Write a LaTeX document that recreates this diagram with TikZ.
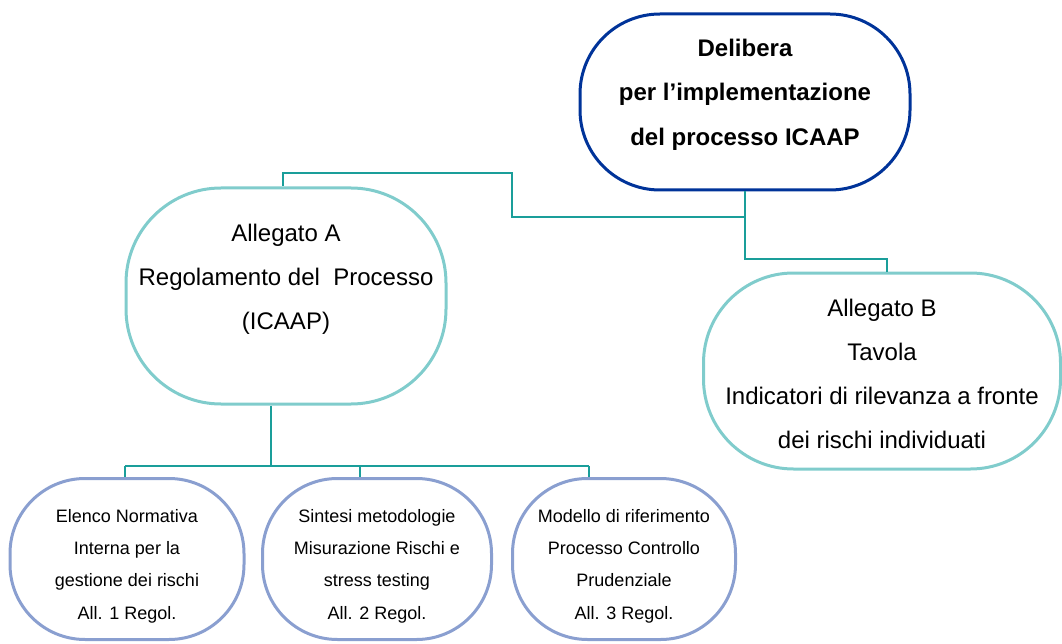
\documentclass[tikz,border=0pt]{standalone}
\usepackage{fontspec}
\setmainfont{Liberation Sans}
\usepackage{xcolor}
\usetikzlibrary{positioning,calc}
\definecolor{deepblue}{RGB}{0,51,153}
\definecolor{paleteal}{RGB}{128,204,204}
\definecolor{linkteal}{RGB}{26,158,154}
\definecolor{lilac}{RGB}{138,159,208}

\begin{document}
\begin{tikzpicture}[
  x=1pt, y=-1pt,
  box/.style={draw, rectangle, align=center, inner sep=0pt, line width=3pt},
  head/.style={box, draw=deepblue, font=\fontsize{24}{44.5}\selectfont\bfseries,
               minimum width=330, minimum height=176, rounded corners=80},
  annex/.style={box, draw=paleteal, font=\fontsize{24}{44}\selectfont,
                rounded corners=95},
  sub/.style={box, draw=lilac, font=\fontsize{18}{32.3}\selectfont,
              minimum height=161, rounded corners=75, text height=124},
  link/.style={draw=linkteal, line width=1.5pt}
]
\useasboundingbox (0,0) rectangle (1062,644);
\node[head, text depth=20] (delib) at (745,102) {Delibera\\per l’implementazione\\del processo ICAAP};
\node[annex, minimum width=320, minimum height=216, text depth=38] (allA) at (286,296) {Allegato A\\Regolamento del~ Processo\\(ICAAP)};
\node[annex, minimum width=357, minimum height=196, rounded corners=90, text height=155] (allB) at (882,371) {Allegato B\\Tavola\\Indicatori di rilevanza a fronte\\dei rischi individuati};
\node[sub, minimum width=234] (reg1) at (127,559) {Elenco Normativa\\Interna per la\\gestione dei rischi\\All. 1 Regol.};
\node[sub, minimum width=229] (reg2) at (377,559) {Sintesi metodologie\\Misurazione Rischi e\\stress testing\\All. 2 Regol.};
\node[sub, minimum width=223] (reg3) at (624,559) {Modello di riferimento\\Processo Controllo\\Prudenziale\\All. 3 Regol.};
% connectors
\coordinate (split) at (745,217);
\coordinate (kneeA) at (512,173);
\coordinate (kneeB) at (745,259);
\coordinate (bus) at (271,466);
\coordinate (d1) at (125,466);
\coordinate (d2) at (360,466);
\coordinate (d3) at (589,466);
\draw[link] (delib.south) -- (split) -| (kneeA) -| ($(allA.north)+(-3,0)$);
\draw[link] (split) -- (kneeB) -| ($(allB.north)+(5,0)$);
\draw[link] ($(allA.south)+(-15,0)$) -- (bus);
\draw[link] (d1) -- (d3);
\draw[link] (d1) -- (d1 |- reg1.north);
\draw[link] (d2) -- (d2 |- reg2.north);
\draw[link] (d3) -- (d3 |- reg3.north);
\end{tikzpicture}
\end{document}
